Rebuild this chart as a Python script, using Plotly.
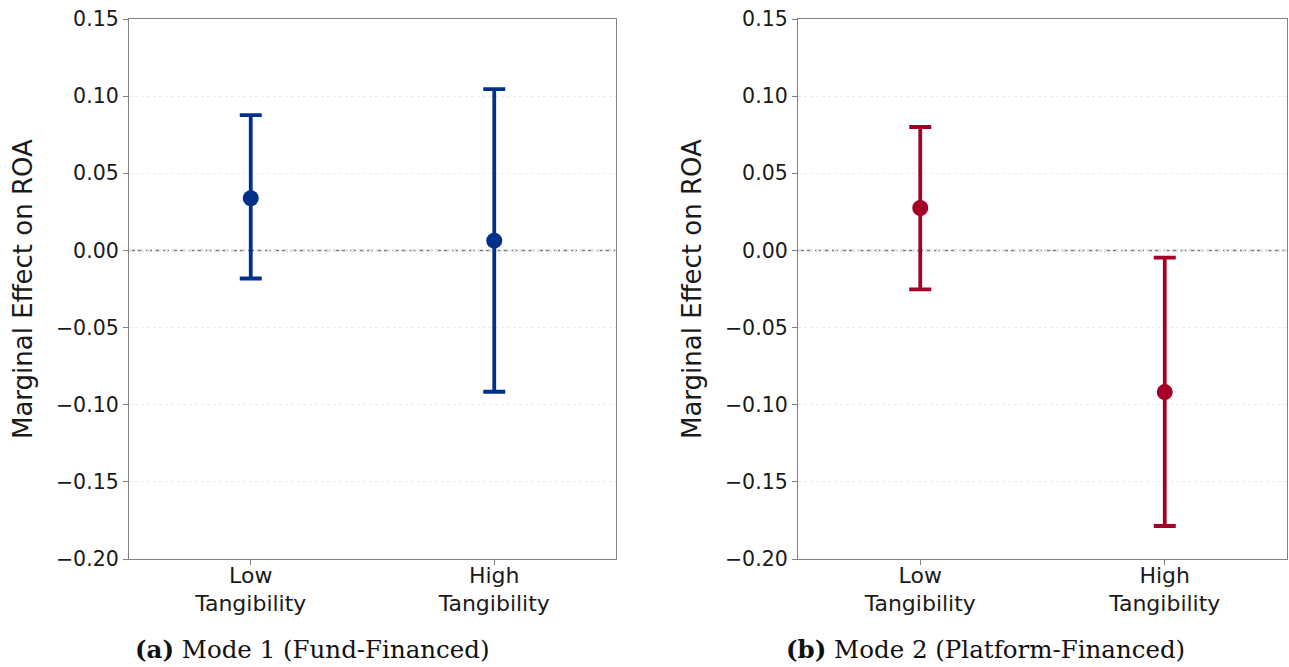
import plotly.graph_objects as go

# ---- data ----
categories = ["Low<br>Tangibility", "High<br>Tangibility"]
positions = [0, 1]

mode1_est = [0.0338, 0.0063]
mode1_lo = [-0.0182, -0.0916]
mode1_hi = [0.0877, 0.1045]

mode2_est = [0.0275, -0.0918]
mode2_lo = [-0.0253, -0.1786]
mode2_hi = [0.0800, -0.0046]

y_ticks = [-0.20, -0.15, -0.10, -0.05, 0.00, 0.05, 0.10, 0.15]

captions = ["<b>(a)</b> Mode 1 (Fund-Financed)", "<b>(b)</b> Mode 2 (Platform-Financed)"]
y_title = "Marginal Effect on ROA"

BLUE = "#00318A"
RED = "#A50026"

fig = go.Figure()


def add_series(est, lo, hi, color, xa, ya):
    plus = [h - e for h, e in zip(hi, est)]
    minus = [e - l for e, l in zip(est, lo)]
    fig.add_trace(go.Scatter(
        x=positions, y=est, mode="markers",
        marker=dict(color=color, size=16),
        error_y=dict(type="data", symmetric=False, array=plus, arrayminus=minus,
                     color=color, thickness=3.8, width=11),
        xaxis=xa, yaxis=ya, showlegend=False, hoverinfo="skip"))


add_series(mode1_est, mode1_lo, mode1_hi, BLUE, "x", "y")
add_series(mode2_est, mode2_lo, mode2_hi, RED, "x2", "y2")

W, H = 1289, 667
ydom = [(H - 559) / H, (H - 19) / H]
x1dom = [129 / W, 616 / W]
x2dom = [798 / W, 1287 / W]

axis_line = "#808080"
xcommon = dict(range=[-0.5, 1.5], tickvals=positions, ticktext=categories,
               showgrid=False, zeroline=False, showline=True, linecolor=axis_line,
               linewidth=1.3, mirror=True, ticks="outside", ticklen=5, tickcolor=axis_line,
               ticklabelstandoff=-9,
               tickfont=dict(family="DejaVu Sans", size=22, color="#1a1a1a"),
               fixedrange=True, automargin=False)
ycommon = dict(range=[-0.20, 0.15], tickvals=y_ticks, tickformat=".2f",
               showgrid=True, gridcolor="#ececec", griddash="dot", gridwidth=1,
               zeroline=False, showline=True, linecolor=axis_line, linewidth=1.3,
               mirror=True, ticks="outside", ticklen=5, tickcolor=axis_line,
               tickfont=dict(family="DejaVu Sans", size=20.5, color="#1a1a1a"),
               fixedrange=True, automargin=False)

fig.update_layout(
    template="none",
    width=W, height=H,
    margin=dict(l=0, r=0, t=0, b=0, pad=0, autoexpand=False),
    paper_bgcolor="white", plot_bgcolor="white",
    xaxis=dict(domain=x1dom, anchor="y", **xcommon),
    yaxis=dict(domain=ydom, anchor="x", **ycommon),
    xaxis2=dict(domain=x2dom, anchor="y2", **xcommon),
    yaxis2=dict(domain=ydom, anchor="x2", **ycommon),
)

for xr, yr in [("x domain", "y"), ("x2 domain", "y2")]:
    fig.add_shape(type="line", xref=xr, yref=yr, x0=0, x1=1, y0=0, y1=0,
                  line=dict(color="#7a7a7a", width=1.5, dash="6px,2.5px"), layer="below")

# y-axis titles
for xc in [23, 692]:
    fig.add_annotation(text=y_title, x=xc / W, y=(ydom[0] + ydom[1]) / 2,
                       xref="paper", yref="paper", textangle=-90, showarrow=False,
                       xanchor="center", yanchor="middle",
                       font=dict(family="DejaVu Sans", size=26, color="#1a1a1a"))

# captions
for cap, xc in zip(captions, [312, 985]):
    fig.add_annotation(text=cap, x=xc / W, y=(H - 649) / H, xref="paper", yref="paper",
                       showarrow=False, xanchor="center", yanchor="middle",
                       font=dict(family="DejaVu Serif", size=24.5, color="#111111"))

fig.write_html("out.html")
